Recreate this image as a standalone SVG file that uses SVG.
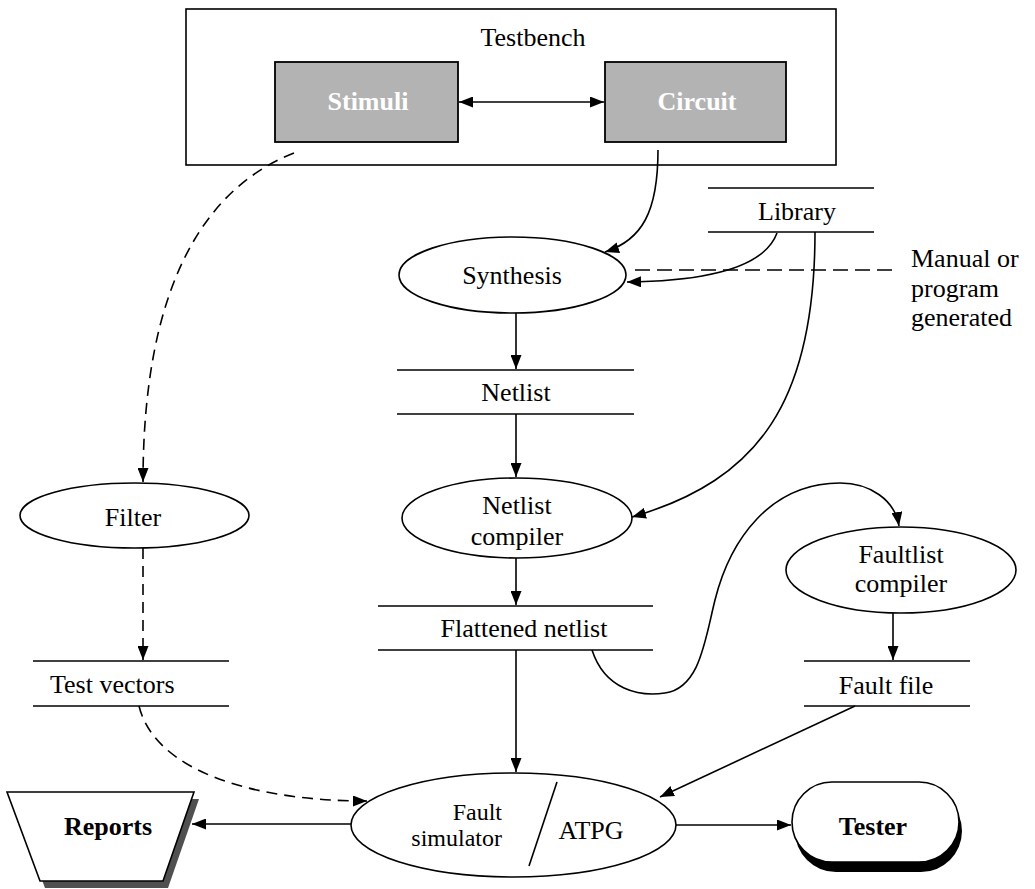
<svg xmlns="http://www.w3.org/2000/svg" width="1035" height="889" viewBox="0 0 1035 889">
<style>
text{font-family:"Liberation Serif","Times New Roman",serif;font-size:26px;fill:#000}
.c{text-anchor:middle}
.b{font-weight:bold}
.w{fill:#fff}
.s{font-size:24px}
.ln{stroke:#000;stroke-width:1.6;fill:none}
.sh{fill:#fff;stroke:#000;stroke-width:1.6}
.gr{fill:#b3b3b3;stroke:#000;stroke-width:1.8}
.d{stroke-dasharray:11,7}
.a{marker-end:url(#ah)}
</style>
<defs>
<marker id="ah" markerUnits="userSpaceOnUse" markerWidth="15" markerHeight="11" refX="14" refY="5.5" orient="auto-start-reverse" viewBox="0 0 15 11">
<path d="M0,0 L14,5.5 L0,11 z" fill="#000"/>
</marker>
</defs>
<g id="testbench">
<rect x="186" y="9" width="650" height="156" class="sh"/>
<text x="533" y="46" class="c">Testbench</text>
</g>
<g id="stimuli">
<rect x="275" y="62" width="183" height="80" class="gr"/>
<text x="368" y="110" class="c b w">Stimuli</text>
</g>
<g id="circuit">
<rect x="605" y="62" width="181" height="80" class="gr"/>
<text x="697" y="110" class="c b w">Circuit</text>
</g>
<g id="library">
<line x1="708" y1="188" x2="874" y2="188" class="ln"/>
<line x1="708" y1="232" x2="874" y2="232" class="ln"/>
<text x="797" y="220" class="c">Library</text>
</g>
<g id="synthesis">
<ellipse cx="512.5" cy="275" rx="113.5" ry="38" class="sh"/>
<text x="512" y="284" class="c">Synthesis</text>
</g>
<g id="manual">
<text x="911" y="267">Manual or</text>
<text x="911" y="297">program</text>
<text x="911" y="326">generated</text>
</g>
<g id="netlist">
<line x1="397" y1="370" x2="634" y2="370" class="ln"/>
<line x1="397" y1="414" x2="634" y2="414" class="ln"/>
<text x="516" y="401" class="c">Netlist</text>
</g>
<g id="netlist-compiler">
<ellipse cx="517" cy="518" rx="115" ry="40" class="sh"/>
<text x="517" y="514" class="c">Netlist</text>
<text x="517" y="545" class="c">compiler</text>
</g>
<g id="filter">
<ellipse cx="134.5" cy="515.5" rx="114.5" ry="32.5" class="sh"/>
<text x="133" y="526" class="c">Filter</text>
</g>
<g id="flattened-netlist">
<line x1="378" y1="606" x2="653" y2="606" class="ln"/>
<line x1="378" y1="650" x2="653" y2="650" class="ln"/>
<text x="524" y="637" class="c">Flattened netlist</text>
</g>
<g id="faultlist-compiler">
<ellipse cx="901" cy="570" rx="115" ry="43" class="sh"/>
<text x="901" y="563" class="c">Faultlist</text>
<text x="901" y="592" class="c">compiler</text>
</g>
<g id="test-vectors">
<line x1="33" y1="661" x2="229" y2="661" class="ln"/>
<line x1="33" y1="706" x2="229" y2="706" class="ln"/>
<text x="50" y="693">Test vectors</text>
</g>
<g id="fault-file">
<line x1="804" y1="661" x2="970" y2="661" class="ln"/>
<line x1="804" y1="706" x2="970" y2="706" class="ln"/>
<text x="886" y="694" class="c">Fault file</text>
</g>
<g id="fault-simulator-atpg">
<ellipse cx="513.5" cy="825" rx="162.5" ry="52" class="sh"/>
<line x1="557" y1="782" x2="529" y2="866" class="ln"/>
<text x="502" y="820" text-anchor="end" class="s">Fault</text>
<text x="502" y="846" text-anchor="end" class="s">simulator</text>
<text x="591" y="839" class="c">ATPG</text>
</g>
<g id="reports">
<polygon points="12,799 199,799 168,888 45,888" fill="#505050"/>
<polygon points="7,792 194,792 163,881 40,881" class="sh"/>
<text x="108" y="835" class="c b">Reports</text>
</g>
<g id="tester">
<rect x="795" y="790" width="167" height="82" rx="41" fill="#000"/>
<rect x="792" y="782" width="167" height="80" rx="40" class="sh"/>
<text x="873" y="835" class="c b">Tester</text>
</g>
<g id="connectors">
<line x1="459" y1="102" x2="604" y2="102" class="ln a" marker-start="url(#ah)"/>
<path d="M294,153 C205,188 143,285 143,482" class="ln d a"/>
<path d="M658,150 C658,212 642,240 605,252" class="ln a"/>
<path d="M777,233 C766,263 720,281 627,282" class="ln a"/>
<line x1="635" y1="270" x2="892" y2="270" class="ln" stroke-dasharray="15,7"/>
<path d="M815,232 C815,400 760,480 632,517" class="ln a"/>
<line x1="516" y1="313" x2="516" y2="369" class="ln a"/>
<line x1="516" y1="414" x2="516" y2="477" class="ln a"/>
<line x1="516" y1="558" x2="516" y2="605" class="ln a"/>
<line x1="143" y1="548" x2="143" y2="660" class="ln d a"/>
<path d="M592,650 C605,690 640,697 665,693 C700,688 705,640 715,600 C730,540 770,483 840,483 C870,483 895,500 899,526" class="ln a"/>
<line x1="893" y1="613" x2="893" y2="660" class="ln a"/>
<line x1="516" y1="650" x2="516" y2="772" class="ln a"/>
<path d="M139,706 C155,770 250,801 367,801" class="ln d a"/>
<line x1="855" y1="706" x2="660" y2="797" class="ln a"/>
<line x1="351" y1="824" x2="192" y2="824" class="ln a"/>
<line x1="676" y1="825" x2="791" y2="825" class="ln a"/>
</g>
</svg>
